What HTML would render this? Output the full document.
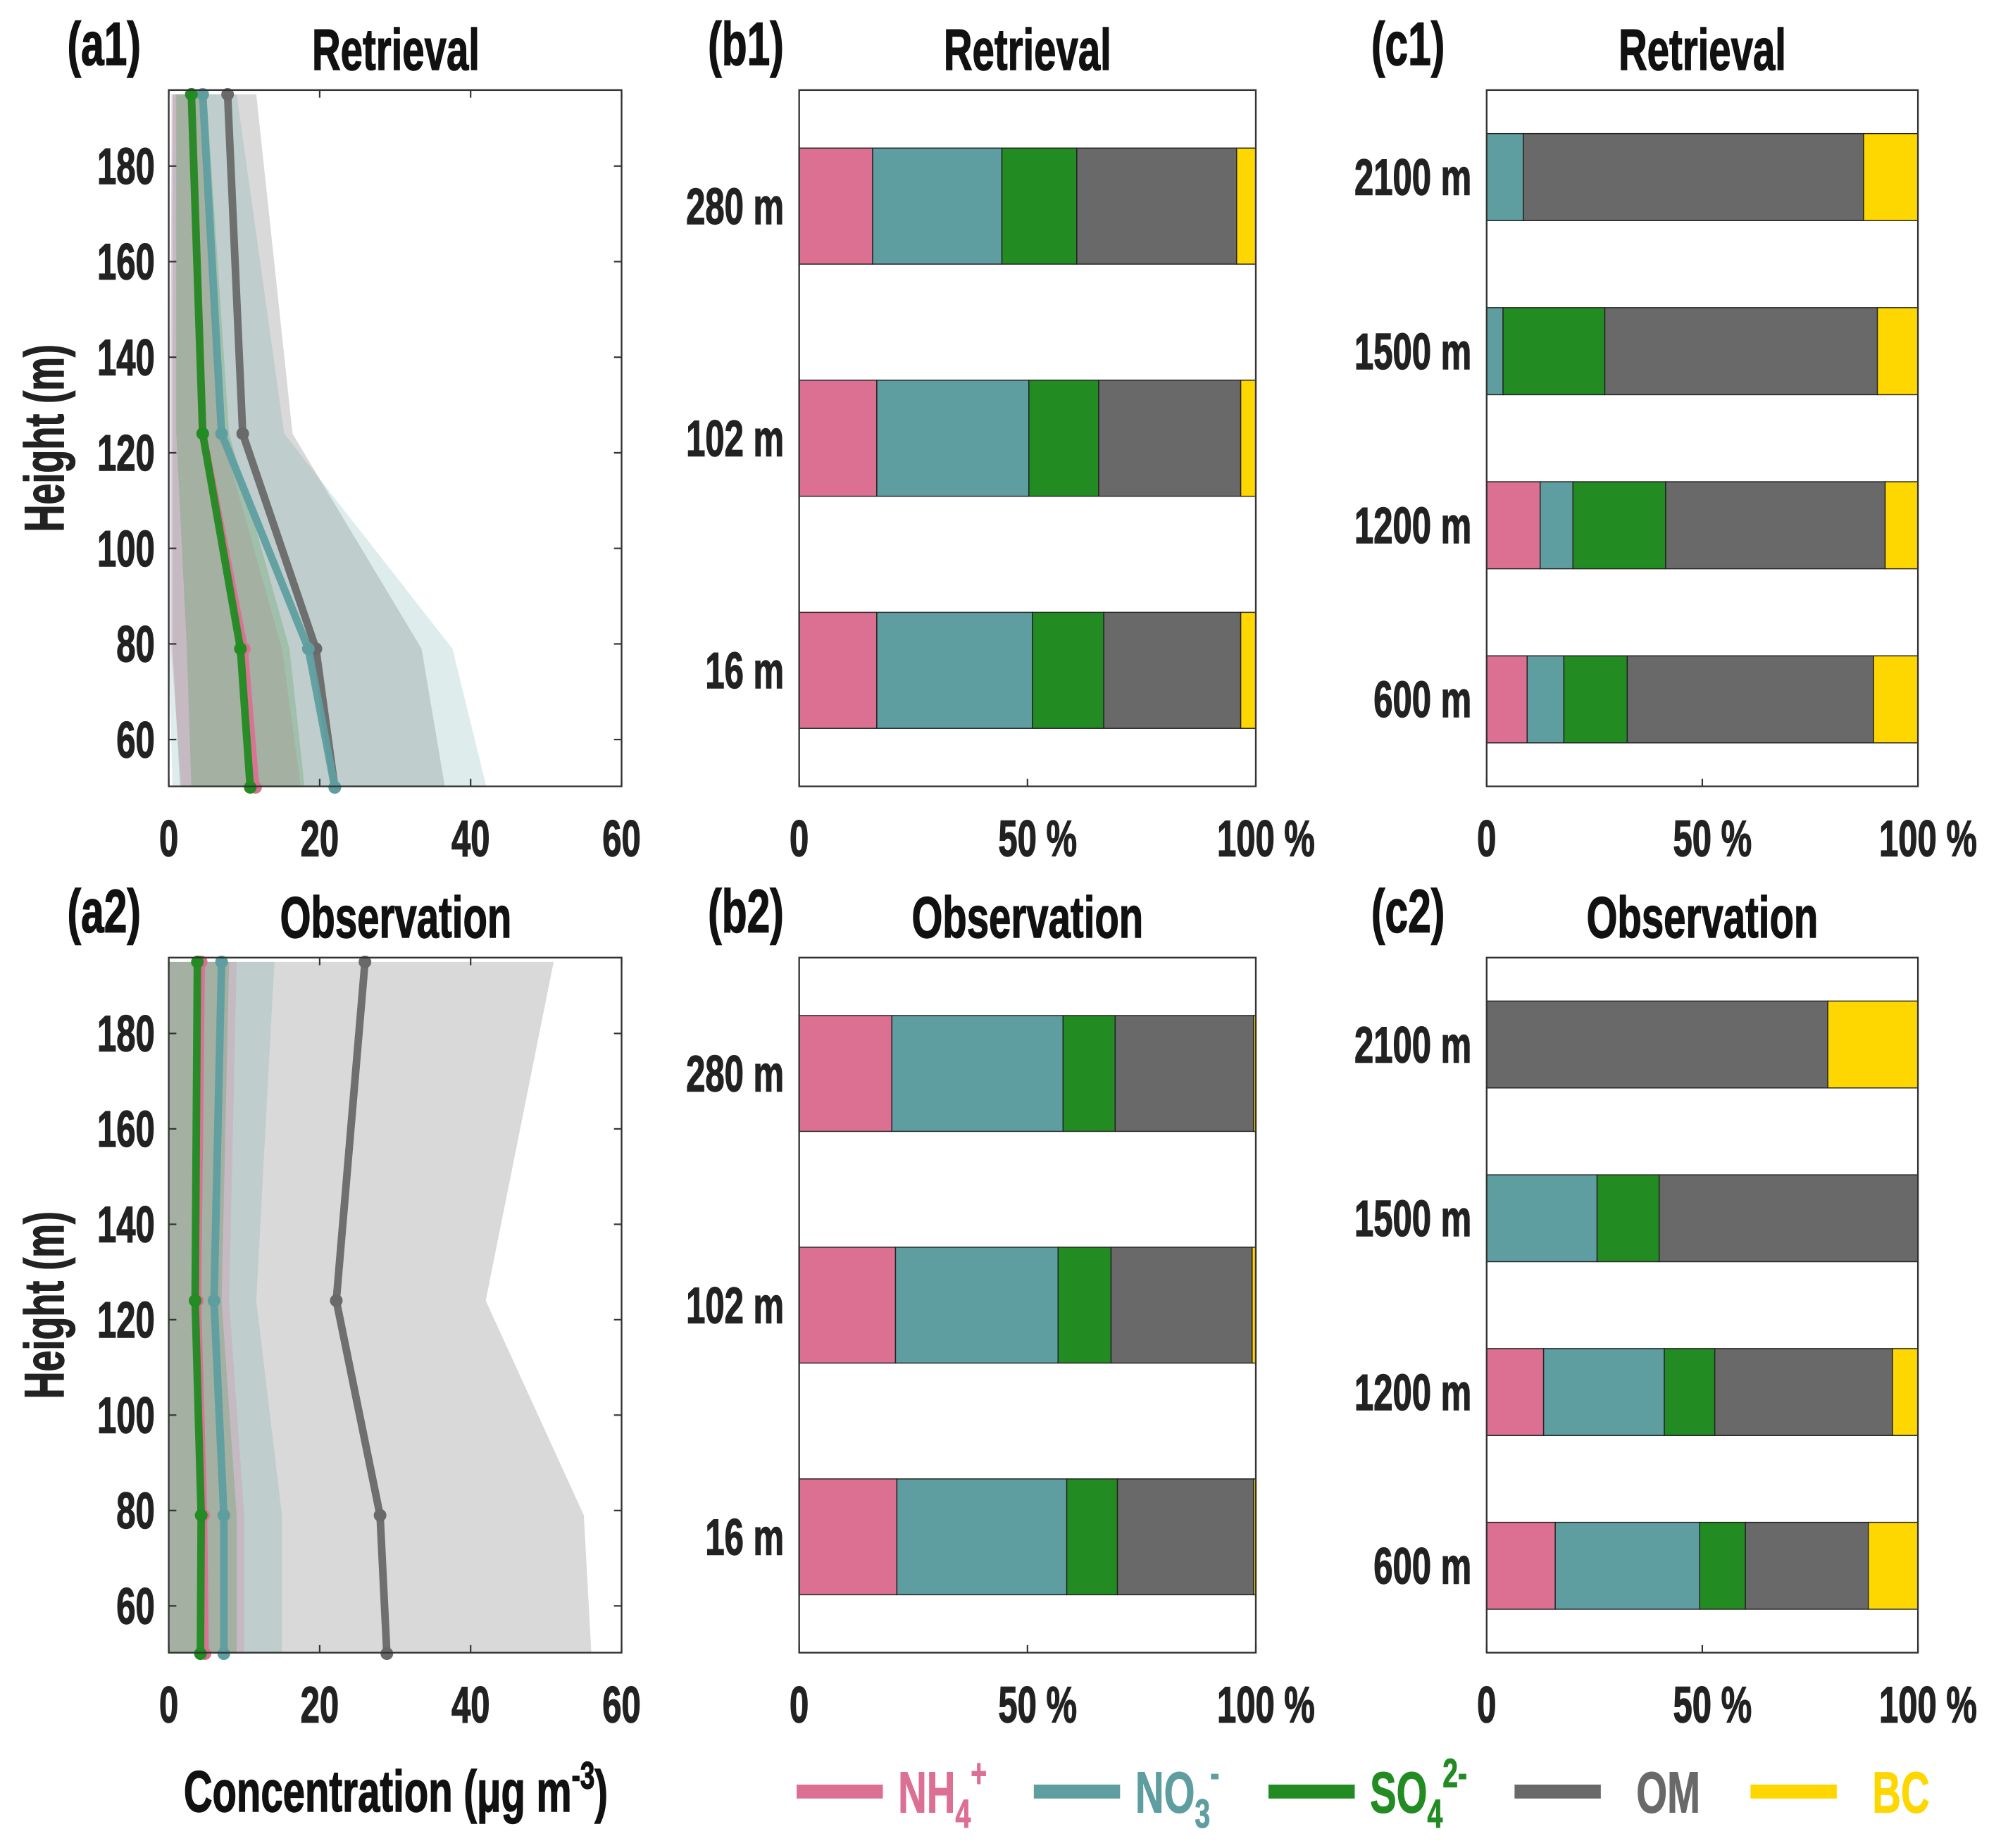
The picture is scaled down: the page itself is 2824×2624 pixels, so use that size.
<!DOCTYPE html>
<html><head><meta charset="utf-8"><style>
html,body{margin:0;padding:0;background:#fff}
svg{display:block}
text{font-family:"Liberation Sans",sans-serif;font-weight:bold}
</style></head><body>
<svg id="fig" width="2824" height="2624" viewBox="0 0 1568 1457" xmlns="http://www.w3.org/2000/svg"></svg>
<script>
// ---------- data ----------
const heights = [195, 124, 79, 50];
const species = ["NH4", "NO3", "SO4", "OM", "BC"];
const colors = ["#DB7093", "#5F9EA0", "#228B22", "#696969", "#FFD700"];
const xTicks = [0, 20, 40, 60];
const yTicks = [60, 80, 100, 120, 140, 160, 180];
// a1 retrieval mean lines
const a1NH4 = [3, 4.5, 10, 11.5];
const a1NO3 = [4.5, 7, 18.5, 22];
const a1SO4 = [3, 4.5, 9.5, 10.8];
const a1OM = [7.8, 9.8, 19.5, 22];
// a1 bands (lower / upper)
const a1NH4Lo = [0.3, 0.3, 0.3, 1.7], a1NH4Hi = [4, 7, 15, 17.5];
const a1NO3Lo = [0.5, 0, 0, 0.5], a1NO3Hi = [9, 15.3, 37.6, 42.1];
const a1SO4Lo = [1, 1, 2.4, 3.0], a1SO4Hi = [5, 8, 16, 18];
const a1OMLo = [0.5, 0.5, 0.5, 1.5], a1OMHi = [11.6, 16.4, 33.5, 36.6];
// a2 observation
const a2NH4 = [4.3, 3.8, 4.6, 4.8];
const a2NO3 = [7, 6, 7.3, 7.3];
const a2SO4 = [3.8, 3.5, 4.3, 4.2];
const a2OM = [26, 22.2, 28, 28.9];
const a2NH4Lo = [0, 0, 0, 0], a2NH4Hi = [9, 8, 10, 10];
const a2NO3Lo = [0, 0, 0, 0], a2NO3Hi = [14, 11.6, 15, 15];
const a2SO4Lo = [0, 0, 0, 0], a2SO4Hi = [8, 7, 9, 9];
const a2OMLo = [0, 0, 0, 0], a2OMHi = [51, 42, 55, 56];
// bar composition (%), top to bottom
const bCats = ["280 m", "102 m", "16 m"];
const cCats = ["2100 m", "1500 m", "1200 m", "600 m"];
const b1NH4 = [16.1, 17, 17], b1NO3 = [28.3, 33.3, 34.1], b1SO4 = [16.4, 15.3, 15.6], b1OM = [35, 31.1, 30], b1BC = [4.2, 3.3, 3.3];
const b2NH4 = [20.3, 21.1, 21.4], b2NO3 = [37.5, 35.6, 37.2], b2SO4 = [11.4, 11.6, 11.1], b2OM = [30.3, 30.9, 29.8], b2BC = [0.5, 0.8, 0.5];
const c1NH4 = [0, 0, 12.4, 9.4], c1NO3 = [8.5, 3.8, 7.6, 8.5], c1SO4 = [0, 23.6, 21.5, 14.7], c1OM = [78.9, 63.2, 50.9, 57.1], c1BC = [12.6, 9.4, 7.6, 10.3];
const c2NH4 = [0, 0, 13.2, 15.9], c2NO3 = [0, 25.6, 28, 33.5], c2SO4 = [0, 14.4, 11.7, 10.6], c2OM = [79.1, 60, 41.2, 28.5], c2BC = [20.9, 0, 5.9, 11.5];

// ---------- helpers ----------
const NS = "http://www.w3.org/2000/svg";
const svg = document.getElementById("fig");
function el(tag, attrs, parent) {
  const e = document.createElementNS(NS, tag);
  for (const k in attrs) e.setAttribute(k, attrs[k]);
  (parent || svg).appendChild(e);
  return e;
}
function txt(x, y, s, size, anchor, color, name, parent) {
  const g = el("g", { transform: `translate(${x},${y}) scale(0.68,1)` }, parent);
  const t = el("text", { x: 0, y: 0, "font-size": size, "text-anchor": anchor || "middle", fill: color || "#222", stroke: color || "#222", "stroke-width": 0.8 }, g);
  t.textContent = s;
  
  
  return t;
}

// ---------- line panels ----------
function linePanel(top, bottom, label, title, lines, bands, pname) {
  const L = 133, R = 490;
  const g = el("g", {});
  
  
  const xs = v => L + (v - 0) / 60 * (R - L);
  const ys = h => bottom - (h - 50.2) / (195.9 - 50.2) * (bottom - top);
  el("rect", { x: L, y: top, width: R - L, height: bottom - top, fill: "#fff" }, g);
  const bandOrder = [3, 1, 0, 2];
  bandOrder.forEach(i => {
    const [lo, hi] = bands[i];
    let pts = heights.map((h, k) => `${xs(hi[k])},${ys(h)}`);
    pts = pts.concat(heights.map((h, k) => `${xs(lo[k])},${ys(h)}`).reverse());
    const p = el("polygon", { points: pts.join(" "), fill: colors[i], "fill-opacity": i == 3 ? 0.25 : 0.2 }, g);
    
    
  });
  [3, 1, 0, 2].forEach(i => {
    const d = lines[i];
    const pl = el("polyline", { points: heights.map((h, k) => `${xs(d[k])},${ys(h)}`).join(" "), fill: "none", stroke: colors[i], "stroke-width": 6, "stroke-opacity": 0.95 }, g);
    
    
    heights.forEach((h, k) => {
      const c = el("circle", { cx: xs(d[k]), cy: ys(h), r: 5, fill: colors[i] }, g);
      
      
    });
  });
  el("rect", { x: L, y: top, width: R - L, height: bottom - top, fill: "none", stroke: "#333", "stroke-width": 1.3 }, g);
  yTicks.forEach(v => {
    const y = ys(v);
    el("line", { x1: L, x2: L + 6, y1: y, y2: y, stroke: "#333", "stroke-width": 1.2 }, g);
    el("line", { x1: R, x2: R - 6, y1: y, y2: y, stroke: "#333", "stroke-width": 1.2 }, g);
    txt(122, y + 14, String(v), 40, "end", "#222", "y-tick-label", g);
  });
  xTicks.forEach(v => {
    const x = xs(v);
    el("line", { x1: x, x2: x, y1: bottom, y2: bottom - 6, stroke: "#333", "stroke-width": 1.2 }, g);
    el("line", { x1: x, x2: x, y1: top, y2: top + 6, stroke: "#333", "stroke-width": 1.2 }, g);
    txt(x, bottom + 55, String(v), 40, "middle", "#222", "x-tick-label", g);
  });
  txt(312, top - 16, title, 46, "middle", "#111", "panel-title", g);
  txt(82, top - 20, label, 48, "middle", "#111", "panel-label", g);
  const gy = el("g", { transform: `translate(50,${(top + bottom) / 2}) rotate(-90)` }, g);
  txt(0, 0, "Height (m)", 44, "middle", "#222", "y-axis-title", gy);
}

function barPanel(L, R, top, bottom, cats, data, label, title, pname, lx) {
  const g = el("g", {});
  
  
  const n = cats.length;
  const xs = p => L + p / 100 * (R - L);
  const ys = k => top + (k + 0.5) / n * (bottom - top);
  const bh = 0.5 / n * (bottom - top);
  cats.forEach((c, k) => {
    let acc = 0;
    data.forEach((arr, i) => {
      const v = arr[k];
      if (v > 0) {
        const r = el("rect", { x: xs(acc), y: ys(k) - bh / 2, width: xs(acc + v) - xs(acc), height: bh, fill: colors[i], stroke: "#222", "stroke-width": 0.8 }, g);
        
        
      }
      acc += v;
    });
    txt(L - 12, ys(k) + 14, c, 40, "end", "#222", "y-tick-label", g);
  });
  el("rect", { x: L, y: top, width: R - L, height: bottom - top, fill: "none", stroke: "#333", "stroke-width": 1.3 }, g);
  [[0, "0"], [50, "50 %"], [100, "100 %"]].forEach(([v, s]) => {
    const x = xs(v);
    el("line", { x1: x, x2: x, y1: bottom, y2: bottom - 6, stroke: "#333", "stroke-width": 1.2 }, g);
    txt(x + (v == 0 ? 0 : 8), bottom + 55, s, 40, "middle", "#222", "x-tick-label", g);
  });
  txt((L + R) / 2, top - 16, title, 46, "middle", "#111", "panel-title", g);
  txt(lx, top - 20, label, 48, "middle", "#111", "panel-label", g);
}

linePanel(71, 620, "(a1)", "Retrieval", [a1NH4, a1NO3, a1SO4, a1OM],
  [[a1NH4Lo, a1NH4Hi], [a1NO3Lo, a1NO3Hi], [a1SO4Lo, a1SO4Hi], [a1OMLo, a1OMHi]], "panel-a1");
linePanel(755, 1303, "(a2)", "Observation", [a2NH4, a2NO3, a2SO4, a2OM],
  [[a2NH4Lo, a2NH4Hi], [a2NO3Lo, a2NO3Hi], [a2SO4Lo, a2SO4Hi], [a2OMLo, a2OMHi]], "panel-a2");
barPanel(630, 990, 71, 620, bCats, [b1NH4, b1NO3, b1SO4, b1OM, b1BC], "(b1)", "Retrieval", "panel-b1", 588);
barPanel(630, 990, 755, 1303, bCats, [b2NH4, b2NO3, b2SO4, b2OM, b2BC], "(b2)", "Observation", "panel-b2", 588);
barPanel(1172, 1512, 71, 620, cCats, [c1NH4, c1NO3, c1SO4, c1OM, c1BC], "(c1)", "Retrieval", "panel-c1", 1110);
barPanel(1172, 1512, 755, 1303, cCats, [c2NH4, c2NO3, c2SO4, c2OM, c2BC], "(c2)", "Observation", "panel-c2", 1110);

// legend and axis title
(function(){
  function add(tag, a, p){const e=document.createElementNS(NS,tag);for(const k in a)e.setAttribute(k,a[k]);(p||svg).appendChild(e);return e;}
  const g0 = add("g", {transform:"translate(312,1428) scale(0.68,1)"});
  const t = add("text", {x:0,y:0,"font-size":46,"text-anchor":"middle",fill:"#111",stroke:"#111","stroke-width":0.8}, g0);
  
  
  t.appendChild(document.createTextNode("Concentration (μg m"));
  const s = add("tspan", {dy:-18,"font-size":30}, t); s.textContent="-3";
  const s2 = add("tspan", {dy:18,"font-size":46}, t); s2.textContent=")";
  const items = [
    {x:628, c:"#DB7093", main:"NH", sub:"4", sup:"+", name:"legend-nh4"},
    {x:815, c:"#5F9EA0", main:"NO", sub:"3", sup:"-", name:"legend-no3"},
    {x:1000, c:"#228B22", main:"SO", sub:"4", sup:"2-", name:"legend-so4"},
    {x:1194, c:"#696969", main:"OM", sub:"", sup:"", name:"legend-om"},
    {x:1380, c:"#FFD700", main:"BC", sub:"", sup:"", name:"legend-bc"}];
  items.forEach(it=>{
    const g = add("g", {});
    
    
    add("rect", {x:it.x, y:1407, width:68, height:11, fill:it.c}, g);
    const tx = it.name==="legend-om"||it.name==="legend-bc" ? it.x+96 : it.x+80;
    const gg = add("g", {transform:`translate(${tx},1429) scale(0.68,1)`}, g);
    const tt = add("text", {x:0,y:0,"font-size":46,fill:it.c,stroke:it.c,"stroke-width":0.6}, gg);
    
    
    tt.appendChild(document.createTextNode(it.main));
    if(it.sub){const a=add("tspan",{dy:12,"font-size":32},tt);a.textContent=it.sub;}
    if(it.sup){const b=add("tspan",{dy:-32,"font-size":32},tt);b.textContent=it.sup;}
  });
})();
</script>
</body></html>
